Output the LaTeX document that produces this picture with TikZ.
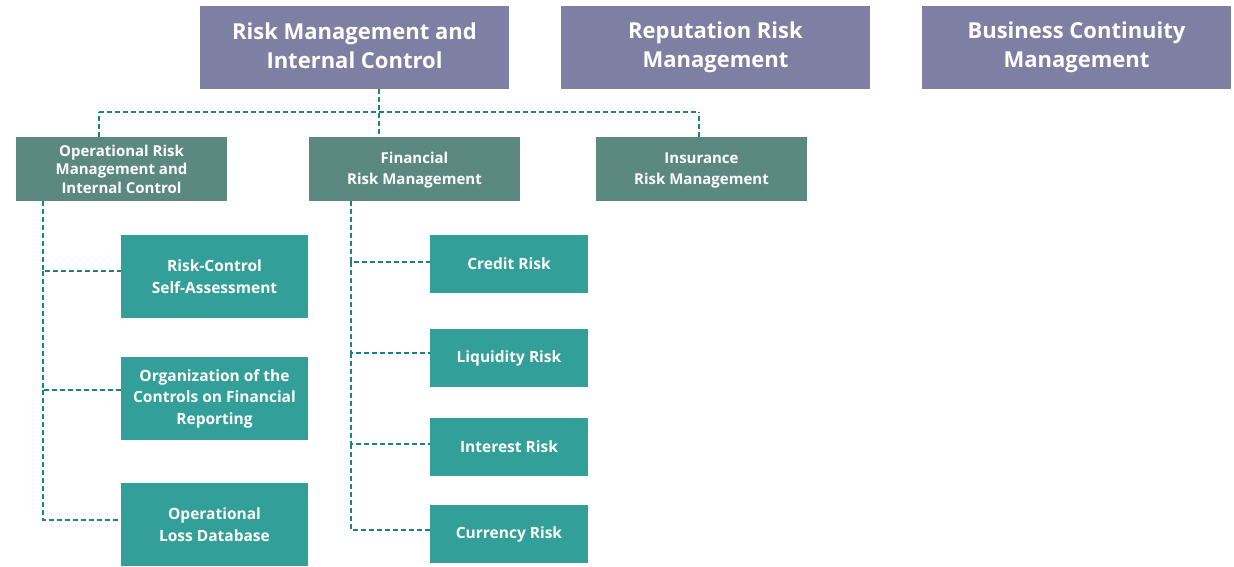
\documentclass[tikz,border=0pt]{standalone}
\usepackage{fontspec}
\setmainfont{Open Sans}
\definecolor{topc}{RGB}{127,127,163}
\definecolor{midc}{RGB}{91,137,128}
\definecolor{lowc}{RGB}{50,160,153}
\definecolor{linec}{RGB}{30,128,128}
\begin{document}
\begin{tikzpicture}[x=1pt,y=-1pt,
  box/.style={draw=none,text=white,font=\bfseries,align=center,inner sep=0pt},
  topbox/.style={box,fill=topc,minimum width=309pt,minimum height=83pt,font=\fontsize{22}{29}\selectfont\bfseries},
  midbox/.style={box,fill=midc,minimum width=211pt,minimum height=64pt,font=\fontsize{15}{18.5}\selectfont\bfseries},
  midboxb/.style={midbox,font=\fontsize{15}{21}\selectfont\bfseries},
  lowbox/.style={box,fill=lowc,minimum height=83pt,minimum width=187pt,font=\fontsize{15.5}{21.5}\selectfont\bfseries},
  rbox/.style={box,fill=lowc,minimum height=58pt,minimum width=158pt,font=\fontsize{15.5}{21}\selectfont\bfseries},
  conn/.style={draw=linec,line width=1.3pt,dash pattern=on 5pt off 3pt}]
\useasboundingbox (0,0) rectangle (1234,566);
\node[topbox] (rmic) at (354.5,47.5) {Risk Management and\\Internal Control\rule[-4pt]{0pt}{1pt}};
\node[topbox] (rep) at (715.5,47.5) {Reputation Risk\\Management\rule[-4pt]{0pt}{1pt}};
\node[topbox] (bcm) at (1076.5,47.5) {Business Continuity\\Management\rule[-4pt]{0pt}{1pt}};
\node[midbox] (orm) at (121.5,169) {Operational Risk\\Management and\\Internal Control};
\node[midboxb] (frm) at (414.5,169) {\rule{0pt}{14pt}Financial\\Risk Management};
\node[midboxb] (irm) at (701.5,169) {\rule{0pt}{14pt}Insurance\\Risk Management};
\node[lowbox] (rcsa) at (214.5,276.5) {Risk-Control\\Self-Assessment};
\node[lowbox] (org) at (214.5,398.5) {Organization of the\\Controls on Financial\\Reporting};
\node[lowbox] (old) at (214.5,524.5) {Operational\\Loss Database};
\node[rbox] (cr) at (509,264) {Credit Risk};
\node[rbox] (lr) at (509,358) {Liquidity Risk};
\node[rbox] (ir) at (509,447) {Interest Risk};
\node[rbox] (cur) at (509,534) {Currency Risk};
\coordinate (bus) at (379,112);
\draw[conn] (99,112) -- (699,112);
\draw[conn] (rmic.south -| bus) -- (bus) -- (frm.north -| bus);
\draw[conn] (orm.north -| 99,0) -- (99,112);
\draw[conn] (irm.north -| 699,0) -- (699,112);
\draw[conn] (orm.south -| 43,0) -- (43,271) -- (rcsa.west |- 0,271);
\draw[conn] (43,271) -- (43,390) -- (org.west |- 0,390);
\draw[conn] (43,390) -- (43,520) -- (old.west |- 0,520);
\draw[conn] (frm.south -| 351,0) -- (351,262) -- (cr.west |- 0,262);
\draw[conn] (351,262) -- (351,353) -- (lr.west |- 0,353);
\draw[conn] (351,353) -- (351,444) -- (ir.west |- 0,444);
\draw[conn] (351,444) -- (351,530) -- (cur.west |- 0,530);
\end{tikzpicture}
\end{document}
